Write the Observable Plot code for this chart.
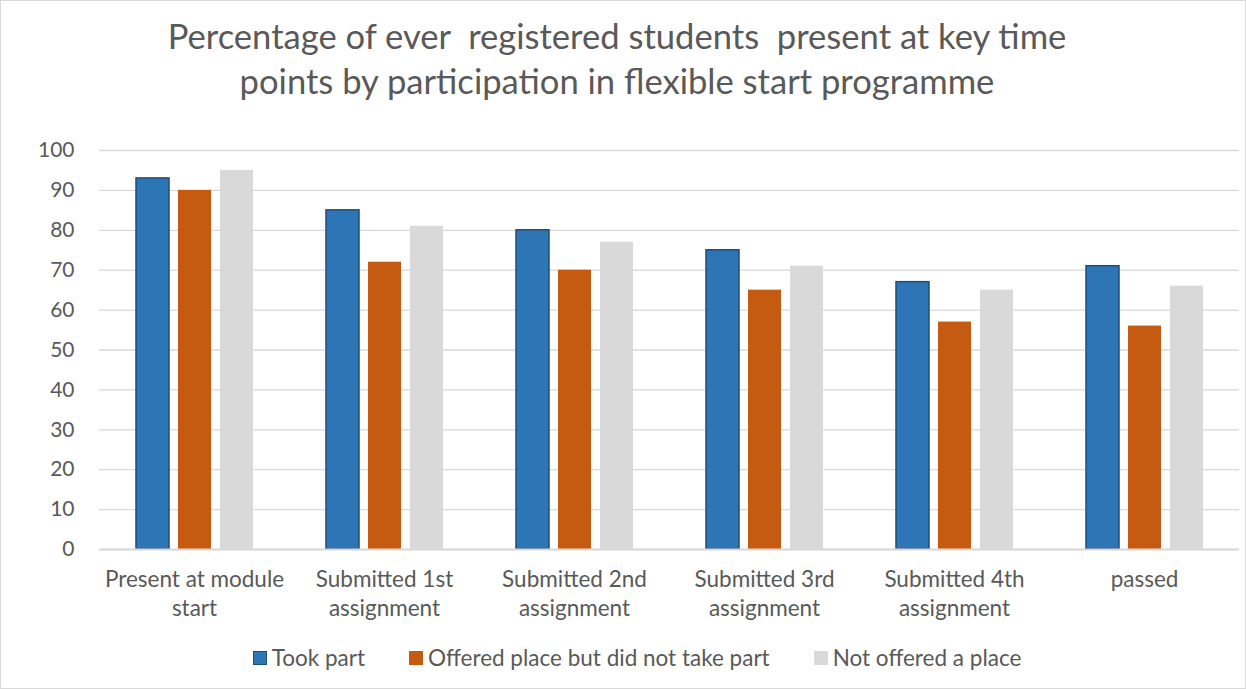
<!DOCTYPE html>
<html>
<head>
<meta charset="utf-8">
<script src="https://cdn.jsdelivr.net/npm/d3@7"></script>
<script src="https://cdn.jsdelivr.net/npm/@observablehq/plot@0.6"></script>
<style>
  body { margin: 0; background: #fff; }
  #wrap { width: 1244px; height: 687px; border: 1px solid #d9d9d9; position: relative;
          font-family: Lato, sans-serif; color: #595959; overflow: hidden; background: #fff; }
  #title { height: 129px; box-sizing: border-box; padding-top: 12px; text-align: center;
           font-size: 34.6px; line-height: 45px; white-space: pre; margin-left: -12px; }
  #legend { display: flex; justify-content: center; align-items: center; gap: 44px;
            font-size: 22.5px; margin-top: 19px; margin-left: 28px; }
  .item { display: flex; align-items: center; gap: 5px; }
  .sw { width: 14px; height: 14px; box-sizing: border-box; }
  svg { display: block; }
</style>
</head>
<body>
<div id="wrap">
  <div id="title"></div>
  <div id="chart"></div>
  <div id="legend"></div>
</div>
<script>
const titleLines = [
  "Percentage of ever  registered students  present at key time",
  "points by participation in flexible start programme"
];
const categories = [
  "Present at module\nstart",
  "Submitted 1st\nassignment",
  "Submitted 2nd\nassignment",
  "Submitted 3rd\nassignment",
  "Submitted 4th\nassignment",
  "passed"
];
const series = ["Took part", "Offered place but did not take part", "Not offered a place"];
const tookPart   = [93, 85, 80, 75, 67, 71];
const offered    = [90, 72, 70, 65, 57, 56];
const notOffered = [95, 81, 77, 71, 65, 66];
const colors = ["#2e75b6", "#c55a11", "#d9d9d9"];
const strokes = ["#1f4e79", "none", "none"];
const yTicks = [0, 10, 20, 30, 40, 50, 60, 70, 80, 90, 100];

const valuesBySeries = [tookPart, offered, notOffered];
const data = categories.flatMap((c, i) =>
  series.map((s, j) => ({ category: c, series: s, value: valuesBySeries[j][i] }))
);

document.getElementById("title").textContent = titleLines.join("\n");

const chart = Plot.plot({
  width: 1244,
  height: 495,
  marginLeft: 97,
  marginRight: 5,
  marginTop: 20,
  marginBottom: 76,
  style: { fontFamily: "Lato, sans-serif", fontSize: "20px", color: "#595959", background: "transparent" },
  fx: { domain: categories, padding: 0, label: null },
  x: { domain: series, paddingInner: 0.224, paddingOuter: 0.851, axis: null },
  y: { domain: [0, 100], label: null },
  color: { domain: series, range: colors },
  marks: [
    Plot.gridY(yTicks, { stroke: "#d9d9d9", strokeOpacity: 1, strokeWidth: 1.3 }),
    Plot.axisY(yTicks, { tickSize: 0, tickPadding: 25, fontSize: 21, label: null }),
    ...series.map((s, j) =>
      Plot.barY(data, {
        filter: d => d.series === s,
        fx: "category", x: "series", y: "value",
        fill: "series", stroke: strokes[j], strokeWidth: 1.5
      })
    ),
    Plot.ruleY([0], { stroke: "#d9d9d9", strokeWidth: 2 }),
    Plot.axisFx({ anchor: "bottom", tickSize: 0, tickPadding: 18, lineHeight: 1.25, fontSize: 22.5, label: null })
  ]
});
document.getElementById("chart").appendChild(chart);

const legend = document.getElementById("legend");
series.forEach((s, j) => {
  const item = document.createElement("div");
  item.className = "item";
  const sw = document.createElement("div");
  sw.className = "sw";
  sw.style.background = colors[j];
  if (strokes[j] !== "none") sw.style.border = "1.5px solid " + strokes[j];
  const t = document.createElement("span");
  t.textContent = s;
  item.appendChild(sw);
  item.appendChild(t);
  legend.appendChild(item);
});
</script>
</body>
</html>
